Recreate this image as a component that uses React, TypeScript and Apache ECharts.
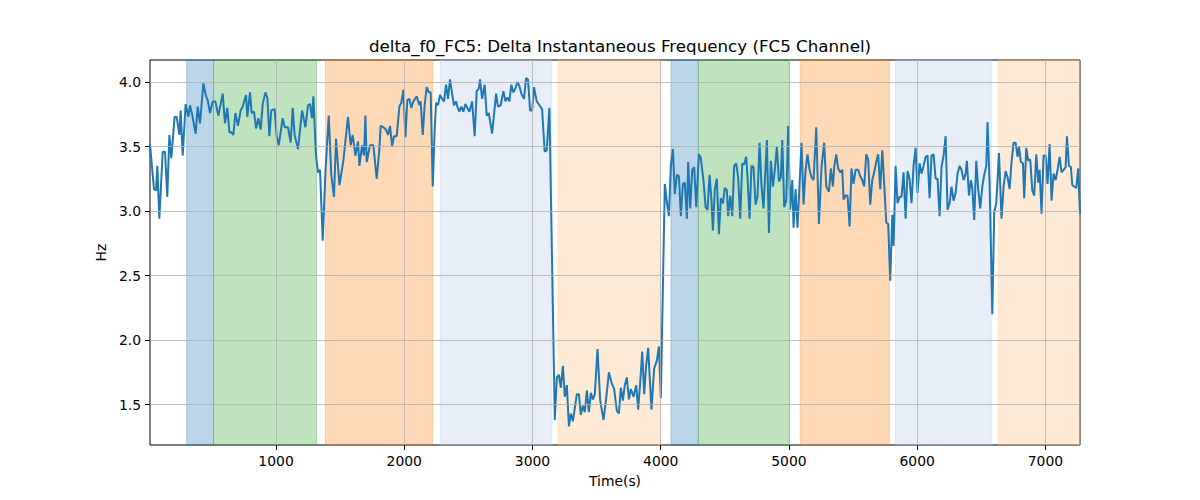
import { useEffect, useRef } from "react";
import * as echarts from "echarts";

// [time (s), delta f0 (Hz)]
const samples: [number, number][] = [
  [17, 3.52], [48, 3.17], [64, 3.16], [74, 3.35], [90, 2.94], [116, 3.46], [134, 3.46], [152, 3.11],
  [168, 3.59], [183, 3.41], [209, 3.73], [225, 3.73], [246, 3.59], [256, 3.78], [272, 3.43], [295, 3.83],
  [316, 3.73], [329, 3.82], [347, 3.74], [373, 3.6], [389, 3.81], [407, 3.68], [433, 3.99], [454, 3.89],
  [467, 3.86], [485, 3.76], [506, 3.85], [527, 3.85], [550, 3.74], [584, 3.91], [602, 3.68], [620, 3.8],
  [636, 3.61], [651, 3.61], [667, 3.59], [683, 3.76], [703, 3.66], [724, 3.78], [740, 3.81], [766, 3.9],
  [776, 3.73], [797, 3.92], [810, 3.76], [828, 3.77], [844, 3.64], [862, 3.72], [880, 3.63], [896, 3.83],
  [917, 3.92], [932, 3.88], [948, 3.58], [963, 3.78], [989, 3.79], [1005, 3.58], [1021, 3.51], [1052, 3.72],
  [1067, 3.65], [1093, 3.65], [1114, 3.53], [1130, 3.8], [1145, 3.59], [1171, 3.48], [1203, 3.78], [1229, 3.65],
  [1249, 3.82], [1265, 3.83], [1281, 3.72], [1291, 3.89], [1312, 3.43], [1327, 3.3], [1343, 3.32], [1364, 2.77],
  [1385, 3.3], [1411, 3.74], [1431, 3.28], [1452, 3.11], [1468, 3.56], [1494, 3.2], [1525, 3.39], [1561, 3.73],
  [1582, 3.51], [1598, 3.59], [1619, 3.43], [1639, 3.54], [1650, 3.35], [1671, 3.51], [1686, 3.43], [1697, 3.74],
  [1707, 3.38], [1733, 3.51], [1759, 3.51], [1785, 3.25], [1806, 3.48], [1816, 3.66], [1837, 3.65], [1858, 3.63],
  [1873, 3.59], [1889, 3.66], [1905, 3.5], [1920, 3.58], [1941, 3.58], [1962, 3.81], [1977, 3.84], [1993, 3.94],
  [2009, 3.57], [2024, 3.86], [2040, 3.87], [2055, 3.8], [2071, 3.85], [2097, 3.89], [2118, 3.82], [2128, 3.85],
  [2144, 3.59], [2159, 3.82], [2175, 3.96], [2191, 3.92], [2206, 3.92], [2222, 3.19], [2237, 3.63], [2248, 3.84],
  [2263, 3.82], [2279, 3.9], [2295, 3.87], [2310, 3.85], [2326, 3.98], [2341, 3.87], [2357, 4.02], [2373, 3.91],
  [2388, 3.82], [2404, 3.85], [2414, 3.81], [2430, 3.77], [2445, 3.81], [2461, 3.77], [2477, 3.83], [2492, 3.8],
  [2508, 3.77], [2529, 3.85], [2549, 3.58], [2565, 3.93], [2581, 3.95], [2591, 4.02], [2607, 3.87], [2627, 3.98],
  [2643, 3.74], [2659, 3.76], [2685, 3.6], [2716, 3.91], [2731, 3.81], [2752, 3.82], [2773, 3.93], [2789, 3.85],
  [2804, 3.88], [2820, 3.85], [2835, 3.98], [2851, 3.92], [2867, 3.95], [2882, 4.0], [2898, 3.97], [2913, 3.91],
  [2934, 3.87], [2950, 4.03], [2965, 4.02], [2981, 3.78], [2997, 3.78], [3012, 3.96], [3033, 3.85], [3054, 3.82],
  [3075, 3.79], [3095, 3.46], [3111, 3.47], [3132, 3.8], [3174, 1.38], [3190, 1.71], [3206, 1.73], [3221, 1.63],
  [3237, 1.8], [3252, 1.56], [3268, 1.65], [3284, 1.33], [3299, 1.43], [3315, 1.37], [3330, 1.47], [3346, 1.58],
  [3362, 1.58], [3377, 1.42], [3393, 1.49], [3408, 1.44], [3424, 1.61], [3440, 1.44], [3455, 1.59], [3471, 1.54],
  [3486, 1.58], [3507, 1.93], [3528, 1.53], [3554, 1.38], [3575, 1.55], [3596, 1.75], [3616, 1.67], [3637, 1.62],
  [3658, 1.45], [3674, 1.43], [3689, 1.63], [3705, 1.53], [3720, 1.65], [3736, 1.71], [3752, 1.54], [3767, 1.62],
  [3788, 1.56], [3809, 1.65], [3824, 1.46], [3840, 1.67], [3856, 1.91], [3871, 1.58], [3887, 1.81], [3902, 1.94],
  [3928, 1.46], [3949, 1.78], [3970, 1.84], [3986, 1.95], [4001, 1.55], [4032, 3.21], [4048, 3.07], [4064, 2.96],
  [4079, 3.35], [4095, 3.48], [4110, 3.13], [4126, 3.28], [4142, 3.27], [4157, 2.96], [4173, 3.21], [4188, 3.22],
  [4204, 2.94], [4214, 3.38], [4230, 3.02], [4246, 3.32], [4261, 3.34], [4277, 3.03], [4298, 3.44], [4313, 3.41],
  [4334, 3.23], [4350, 3.03], [4365, 3.01], [4381, 3.28], [4396, 3.08], [4407, 2.85], [4422, 3.17], [4438, 3.25],
  [4454, 2.82], [4469, 3.1], [4485, 3.06], [4500, 3.18], [4516, 3.16], [4526, 2.96], [4542, 3.12], [4558, 2.96],
  [4573, 3.35], [4589, 3.37], [4604, 3.26], [4620, 2.94], [4636, 3.37], [4651, 3.36], [4667, 3.42], [4677, 3.26],
  [4693, 2.94], [4708, 3.35], [4724, 3.34], [4740, 3.05], [4755, 3.11], [4771, 3.53], [4786, 3.2], [4802, 3.02],
  [4828, 3.55], [4844, 2.83], [4859, 3.39], [4875, 3.19], [4890, 3.32], [4906, 3.5], [4922, 3.23], [4937, 3.26],
  [4948, 3.55], [4963, 3.03], [4979, 3.08], [4994, 3.66], [5010, 3.01], [5026, 3.24], [5036, 2.87], [5052, 3.17],
  [5067, 2.87], [5083, 3.21], [5098, 3.53], [5114, 3.05], [5130, 3.32], [5145, 3.44], [5161, 3.32], [5176, 3.26],
  [5192, 3.24], [5213, 3.65], [5234, 2.9], [5254, 3.34], [5275, 3.53], [5291, 3.19], [5312, 3.15], [5327, 3.33],
  [5343, 3.19], [5353, 3.34], [5369, 3.44], [5384, 3.33], [5400, 3.3], [5416, 3.32], [5426, 3.09], [5442, 3.12],
  [5457, 3.12], [5473, 2.88], [5488, 3.33], [5504, 3.21], [5520, 3.32], [5540, 3.32], [5556, 3.27], [5572, 3.24],
  [5587, 3.19], [5603, 3.44], [5618, 3.4], [5634, 3.05], [5650, 3.24], [5665, 3.3], [5681, 3.38], [5696, 3.44],
  [5712, 3.17], [5728, 3.47], [5743, 3.21], [5759, 2.91], [5774, 2.9], [5790, 2.46], [5806, 2.97], [5816, 2.73],
  [5832, 3.35], [5847, 3.06], [5863, 3.11], [5878, 3.11], [5894, 3.3], [5910, 2.94], [5925, 3.31], [5941, 3.25],
  [5956, 3.06], [5972, 3.35], [5988, 3.49], [6003, 3.14], [6019, 3.37], [6034, 3.29], [6050, 3.35], [6066, 3.42],
  [6081, 3.43], [6097, 3.1], [6112, 3.43], [6128, 3.44], [6144, 3.25], [6159, 3.25], [6175, 2.96], [6190, 3.34],
  [6206, 3.43], [6222, 3.58], [6237, 3.01], [6253, 3.06], [6268, 3.19], [6284, 3.08], [6300, 3.14], [6315, 3.29],
  [6331, 3.35], [6346, 3.32], [6362, 3.24], [6378, 3.29], [6388, 3.39], [6404, 3.12], [6419, 3.24], [6430, 3.18],
  [6445, 2.93], [6461, 3.39], [6476, 3.17], [6492, 3.02], [6508, 3.19], [6523, 3.28], [6539, 3.35], [6549, 3.69],
  [6565, 3.21], [6575, 2.73], [6586, 2.2], [6601, 2.99], [6617, 3.06], [6638, 3.45], [6658, 2.94], [6674, 3.19],
  [6690, 3.31], [6705, 3.26], [6721, 3.17], [6736, 3.38], [6752, 3.53], [6768, 3.53], [6783, 3.42], [6794, 3.5],
  [6809, 3.38], [6825, 3.37], [6835, 3.1], [6851, 3.49], [6866, 3.39], [6882, 3.4], [6898, 3.16], [6913, 3.12],
  [6929, 3.44], [6944, 3.22], [6955, 3.32], [6970, 2.98], [6986, 3.43], [7002, 3.43], [7017, 3.21], [7033, 3.52],
  [7048, 3.08], [7064, 3.29], [7080, 3.24], [7095, 3.32], [7111, 3.42], [7126, 3.3], [7142, 3.32], [7158, 3.34],
  [7168, 3.58], [7184, 3.35], [7199, 3.34], [7210, 3.2], [7225, 3.19], [7241, 3.18], [7256, 3.33], [7270, 2.98],
];

// shaded phases
const phaseStart = [303, 512, 1385, 2280, 3198, 4080, 4293, 5088, 5830, 6633];
const phaseEnd = [512, 1316, 2220, 3150, 4000, 4293, 5003, 5783, 6579, 7270];
const phaseColor = [
  "31,119,180", "44,160,44", "255,127,14", "174,199,232", "255,187,120",
  "31,119,180", "44,160,44", "255,127,14", "174,199,232", "255,187,120",
];

const xTicks = [1000, 2000, 3000, 4000, 5000, 6000, 7000];
const yTicks = [1.5, 2.0, 2.5, 3.0, 3.5, 4.0];

const FONT = "DejaVu Sans";

export default function App() {
  const chartRef = useRef<HTMLDivElement>(null);

  useEffect(() => {
    if (!chartRef.current) return;
    const chart = echarts.init(chartRef.current, null, { renderer: "svg" });

    const tickStyle = { show: true, length: 5, inside: false, lineStyle: { color: "#000", width: 1 } };
    const labelStyle = { color: "#000", fontSize: 13.9, fontFamily: FONT };

    chart.setOption({
      animation: false,
      backgroundColor: "#fff",
      title: {
        text: "delta_f0_FC5: Delta Instantaneous Frequency (FC5 Channel)",
        left: 615,
        textAlign: "center",
        top: 32,
        textStyle: { color: "#000", fontSize: 16.7, fontWeight: "normal", fontFamily: FONT },
      },
      grid: {
        left: 150, top: 60, width: 930, height: 385,
        show: true, borderColor: "#000", borderWidth: 1, backgroundColor: "transparent",
      },
      xAxis: {
        type: "value",
        min: 17,
        max: 7270,
        name: "Time(s)",
        nameLocation: "middle",
        nameGap: 29,
        nameTextStyle: labelStyle,
        axisLine: { show: false },
        axisTick: { ...tickStyle, customValues: xTicks },
        axisLabel: {
          ...labelStyle, margin: 9, customValues: xTicks,
          formatter: (v: number) => String(v),
        },
        splitLine: { show: false },
      },
      yAxis: {
        type: "value",
        min: 1.186,
        max: 4.171,
        name: "Hz",
        nameLocation: "middle",
        nameGap: 40,
        nameTextStyle: labelStyle,
        axisLine: { show: false },
        axisTick: { ...tickStyle, customValues: yTicks },
        axisLabel: {
          ...labelStyle, margin: 9, customValues: yTicks,
          formatter: (v: number) => v.toFixed(1),
        },
        splitLine: { show: false },
      },
      series: [
        {
          type: "line",
          data: [],
          silent: true,
          z: 1,
          markArea: {
            silent: true,
            data: phaseStart.map((s, i) => [
              {
                xAxis: s,
                itemStyle: {
                  color: `rgba(${phaseColor[i]},0.3)`,
                  borderColor: `rgba(${phaseColor[i]},0.3)`,
                  borderWidth: 1,
                },
              },
              { xAxis: phaseEnd[i] },
            ]),
          },
        },
        {
          type: "line",
          data: [],
          silent: true,
          z: 2,
          markLine: {
            silent: true,
            symbol: "none",
            label: { show: false },
            lineStyle: { color: "#b0b0b0", width: 0.8, type: "solid" },
            data: [
              ...xTicks.map((x) => ({ xAxis: x })),
              ...yTicks.map((y) => ({ yAxis: y })),
            ],
          },
        },
        {
          type: "line",
          data: samples,
          z: 3,
          symbol: "none",
          lineStyle: { color: "#1f77b4", width: 2 },
          itemStyle: { color: "#1f77b4" },
        },
      ],
    });

    return () => chart.dispose();
  }, []);

  return (
    <div
      ref={chartRef}
      style={{ position: "absolute", left: 0, top: 0, width: 1200, height: 500 }}
    />
  );
}
